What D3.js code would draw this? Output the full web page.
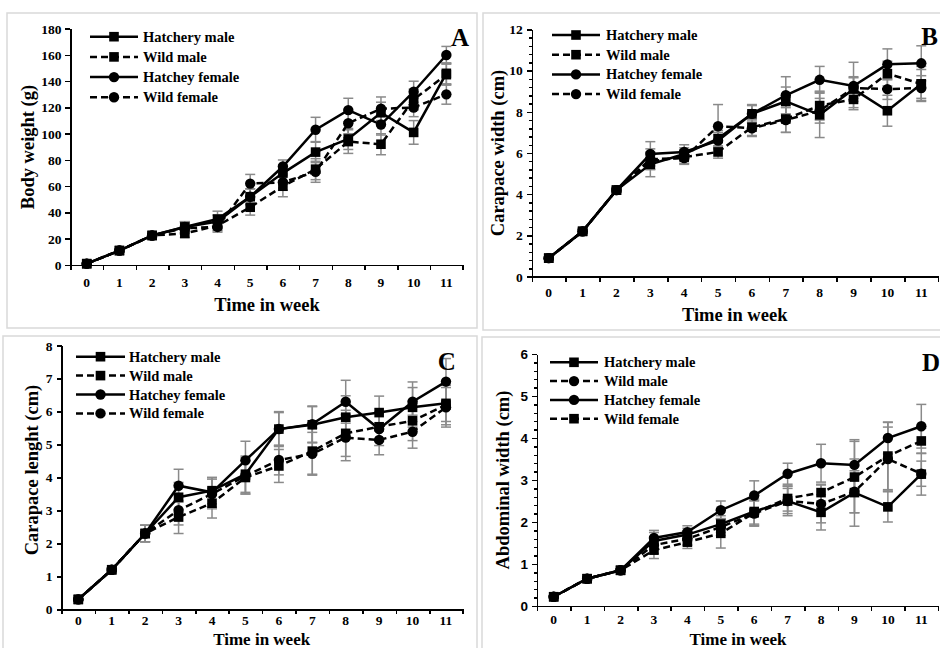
<!DOCTYPE html>
<meta charset="utf-8" />
<style>
  body { margin: 0; background: #fff; }
  svg { display: block; }
  .axis path, .axis line { stroke: #000; stroke-width: 1.5; shape-rendering: crispEdges; }
  .axis text, .wk, .legend text, .title, .letter {
    font-family: "Liberation Serif", "Times New Roman", serif;
    font-weight: bold;
    fill: #000;
  }
  .axis text, .wk { font-size: 13.5px; }
  .sans text { font-family: "Liberation Sans", Arial, sans-serif; font-size: 13.5px; }
  .legend text { font-size: 14.5px; }
  .title { font-size: 18.5px; }
  .title.low { font-size: 17px; }
  .letter { font-size: 25px; }
  .frame { fill: none; stroke: #d9d9d9; stroke-width: 1.5; }
  .err { stroke: #8a8a8a; stroke-width: 1.5; fill: none; }
  .line { fill: none; stroke: #000; stroke-width: 2.5; }
</style>
<svg id="chart" width="940" height="648"></svg>
<script src="https://cdn.jsdelivr.net/npm/d3@7"></script>
<script>
  var weeks = [0, 1, 2, 3, 4, 5, 6, 7, 8, 9, 10, 11];
  var seriesNames = ["Hatchery male", "Wild male", "Hatchey female", "Wild female"];

  // A - body weight (g)
  var bwHatcheryMale = [1, 11, 22.5, 29, 35, 52, 70, 86, 96, 116, 101, 146];
  var bwWildMale = [1, 11, 22.5, 24, 30, 44, 60, 73, 94, 92, 126, 145];
  var bwHatcheyFemale = [1, 11, 22.5, 29, 33, 52, 75, 103, 118, 107, 132, 160];
  var bwWildFemale = [1, 11, 22.5, 28, 29, 62, 63, 71, 108, 119, 120, 130];
  var bwErrHM = [0.5, 1, 1, 4, 6, 6, 6, 8, 8, 8, 9, 8];
  var bwErrWM = [0.5, 1, 1, 3, 4, 6, 8, 8, 9, 8, 8, 8];
  var bwErrHF = [0.5, 1, 1, 4, 5, 6, 5, 9.5, 9, 8, 8, 6.5];
  var bwErrWF = [0.5, 1, 1, 4, 4, 7, 6, 8, 8, 9, 7, 7.5];

  // B - carapace width (cm)
  var cwHatcheryMale = [0.9, 2.2, 4.2, 5.45, 5.95, 6.7, 7.9, 8.5, 7.85, 9.1, 8.05, 9.35];
  var cwWildMale = [0.9, 2.2, 4.2, 5.6, 5.8, 6.05, 7.25, 7.65, 8.3, 8.6, 9.85, 9.35];
  var cwHatcheyFemale = [0.9, 2.2, 4.2, 5.95, 6.05, 6.6, 7.9, 8.8, 9.55, 9.25, 10.3, 10.35];
  var cwWildFemale = [0.9, 2.2, 4.2, 5.7, 5.75, 7.3, 7.2, 7.6, 8.05, 9.15, 9.1, 9.15];
  var cwErrHM = [0.05, 0.1, 0.1, 0.6, 0.3, 0.4, 0.4, 0.7, 1.1, 0.6, 0.75, 0.85];
  var cwErrWM = [0.05, 0.1, 0.1, 0.4, 0.3, 0.3, 0.4, 0.65, 0.7, 0.4, 0.6, 0.7];
  var cwErrHF = [0.05, 0.1, 0.1, 0.6, 0.35, 0.4, 0.45, 0.9, 0.65, 1.15, 0.75, 0.85];
  var cwErrWF = [0.05, 0.1, 0.1, 0.5, 0.3, 1.05, 0.4, 0.6, 0.6, 0.5, 0.5, 0.6];

  // C - carapace length (cm)
  var clHatcheryMale = [0.3, 1.2, 2.3, 3.4, 3.6, 4.1, 5.47, 5.6, 5.83, 5.97, 6.13, 6.25];
  var clWildMale = [0.3, 1.2, 2.3, 2.8, 3.22, 4.0, 4.35, 4.8, 5.34, 5.54, 5.72, 6.2];
  var clHatcheyFemale = [0.3, 1.2, 2.3, 3.75, 3.55, 4.52, 5.47, 5.62, 6.3, 5.47, 6.3, 6.91];
  var clWildFemale = [0.3, 1.2, 2.3, 3.01, 3.5, 4.05, 4.53, 4.72, 5.21, 5.14, 5.39, 6.13];
  var clErrHM = [0.02, 0.05, 0.25, 0.45, 0.4, 0.55, 0.5, 0.55, 0.65, 0.5, 0.6, 0.55];
  var clErrWM = [0.02, 0.05, 0.25, 0.5, 0.45, 0.5, 0.5, 0.7, 0.7, 0.45, 0.6, 0.6];
  var clErrHF = [0.02, 0.05, 0.25, 0.5, 0.45, 0.58, 0.53, 0.55, 0.65, 0.5, 0.6, 0.7];
  var clErrWF = [0.02, 0.05, 0.25, 0.45, 0.45, 0.55, 0.45, 0.65, 0.7, 0.45, 0.5, 0.6];

  // D - abdominal width (cm)
  var awHatcheryMale = [0.22, 0.65, 0.85, 1.55, 1.7, 1.95, 2.25, 2.5, 2.23, 2.7, 2.36, 3.14];
  var awWildMale = [0.22, 0.65, 0.85, 1.45, 1.6, 1.88, 2.2, 2.5, 2.43, 2.72, 3.5, 3.15];
  var awHatcheyFemale = [0.22, 0.65, 0.85, 1.62, 1.76, 2.28, 2.63, 3.15, 3.4, 3.36, 4.0, 4.28];
  var awWildFemale = [0.22, 0.65, 0.85, 1.33, 1.52, 1.73, 2.22, 2.56, 2.7, 3.07, 3.57, 3.93];
  var awErrHM = [0.02, 0.03, 0.03, 0.2, 0.15, 0.2, 0.3, 0.3, 0.42, 0.8, 0.36, 0.5];
  var awErrWM = [0.02, 0.03, 0.03, 0.2, 0.15, 0.2, 0.3, 0.35, 0.45, 0.5, 0.76, 0.3];
  var awErrHF = [0.02, 0.03, 0.03, 0.18, 0.15, 0.22, 0.35, 0.25, 0.45, 0.6, 0.38, 0.52];
  var awErrWF = [0.02, 0.03, 0.03, 0.2, 0.15, 0.35, 0.3, 0.3, 0.2, 0.85, 0.8, 0.3];

  var svg = d3.select("#chart");

  var panels = [
    {
      letter: "A", ytitle: "Body weight (g)", ymax: 180, ystep: 20, minor: 0,
      frame: [7, 13, 470, 315],
      plot: { left: 70.4, right: 462.7, top: 28.7, bottom: 265 }, wkOffset: 17,
      xtitle: [267, 305], ytitlePos: [28, 147], letterPos: [460, 37],
      legend: { x1: 90, x2: 138, tx: 143, y: 36.7, dy: 20.2 },
      values: [bwHatcheryMale, bwWildMale, bwHatcheyFemale, bwWildFemale],
      errs: [bwErrHM, bwErrWM, bwErrHF, bwErrWF],
      markers: ["square", "square", "circle", "circle"]
    },
    {
      letter: "B", ytitle: "Carapace width (cm)", ymax: 12, ystep: 2, minor: 0.4,
      frame: [483, 13, 470, 317],
      plot: { left: 531.8, right: 938.2, top: 29.3, bottom: 276.7 }, wkOffset: 16,
      xtitle: [734.7, 315], ytitlePos: [498, 153], letterPos: [929.7, 36.7],
      legend: { x1: 552, x2: 600, tx: 606, y: 35, dy: 19.7 },
      values: [cwHatcheryMale, cwWildMale, cwHatcheyFemale, cwWildFemale],
      errs: [cwErrHM, cwErrWM, cwErrHF, cwErrWF],
      markers: ["square", "square", "circle", "circle"]
    },
    {
      letter: "C", ytitle: "Carapace lenght (cm)", ymax: 8, ystep: 1, minor: 0, low: true,
      frame: [3, 336, 474, 320],
      plot: { left: 61.6, right: 462.7, top: 345.7, bottom: 609.3 }, wkOffset: 11.5,
      xtitle: [261.7, 639], ytitlePos: [31.7, 470], letterPos: [446.7, 361.7],
      legend: { x1: 76, x2: 125, tx: 129, y: 356.7, dy: 18.9 },
      values: [clHatcheryMale, clWildMale, clHatcheyFemale, clWildFemale],
      errs: [clErrHM, clErrWM, clErrHF, clErrWF],
      markers: ["square", "square", "circle", "circle"]
    },
    {
      letter: "D", ytitle: "Abdominal width (cm)", ymax: 6, ystep: 1, minor: 0.2, sans: true, low: true,
      frame: [482, 337, 470, 320],
      plot: { left: 537, right: 938, top: 354, bottom: 606 }, wkOffset: 13,
      xtitle: [738, 639], ytitlePos: [503, 480], letterPos: [931, 362],
      legend: { x1: 550, x2: 598, tx: 604, y: 362.3, dy: 18.8 },
      values: [awHatcheryMale, awWildMale, awHatcheyFemale, awWildFemale],
      errs: [awErrHM, awErrWM, awErrHF, awErrWF],
      markers: ["square", "circle", "circle", "square"]
    }
  ];

  var dashes = [null, "7,4", null, "7,4"];

  panels.forEach(drawPanel);

  function drawMarker(g, type, cx, cy) {
    if (type == "square") {
      g.append("rect")
        .attr("x", cx - 4.8).attr("y", cy - 4.8)
        .attr("width", 9.6).attr("height", 9.6)
        .attr("fill", "#000");
    } else {
      g.append("circle")
        .attr("cx", cx).attr("cy", cy).attr("r", 5.2)
        .attr("fill", "#000");
    }
  }

  function drawPanel(p) {
    svg.append("rect").attr("class", "frame")
      .attr("x", p.frame[0]).attr("y", p.frame[1])
      .attr("width", p.frame[2]).attr("height", p.frame[3]);

    var x = d3.scaleLinear().domain([-0.5, 11.5]).range([p.plot.left, p.plot.right]);
    var y = d3.scaleLinear().domain([0, p.ymax]).range([p.plot.bottom, p.plot.top]);

    var g = svg.append("g");

    // minor y ticks
    if (p.minor) {
      var minorTicks = d3.range(0, p.ymax + 1e-9, p.minor);
      g.append("g").attr("class", "axis")
        .attr("transform", "translate(" + p.plot.left + ",0)")
        .call(d3.axisLeft(y).tickValues(minorTicks).tickSize(3).tickSizeOuter(0).tickFormat(""));
    }

    // y axis
    g.append("g").attr("class", "axis" + (p.sans ? " sans" : ""))
      .attr("transform", "translate(" + p.plot.left + ",0)")
      .call(d3.axisLeft(y).tickValues(d3.range(0, p.ymax + 1e-9, p.ystep))
        .tickSize(5).tickSizeOuter(0).tickPadding(4).tickFormat(d3.format("d")));

    // x axis, ticks between weeks
    g.append("g").attr("class", "axis")
      .attr("transform", "translate(0," + p.plot.bottom + ")")
      .call(d3.axisBottom(x).tickValues(d3.range(-0.5, 12, 1)).tickSize(5).tickSizeOuter(0).tickFormat(""));

    g.selectAll(".wk").data(weeks).enter().append("text")
      .attr("class", "wk")
      .attr("x", function(d) { return x(d); })
      .attr("y", p.plot.bottom + p.wkOffset)
      .attr("text-anchor", "middle")
      .attr("dominant-baseline", "central")
      .text(function(d) { return d; });

    // error bars
    p.values.forEach(function(vals, s) {
      var eg = g.append("g");
      vals.forEach(function(v, i) {
        var e = p.errs[s][i];
        var cx = x(weeks[i]);
        var y1 = y(v - e), y2 = y(v + e);
        eg.append("line").attr("class", "err").attr("x1", cx).attr("x2", cx).attr("y1", y1).attr("y2", y2);
        eg.append("line").attr("class", "err").attr("x1", cx - 5).attr("x2", cx + 5).attr("y1", y1).attr("y2", y1);
        eg.append("line").attr("class", "err").attr("x1", cx - 5).attr("x2", cx + 5).attr("y1", y2).attr("y2", y2);
      });
    });

    // lines and markers
    var line = d3.line()
      .x(function(d, i) { return x(weeks[i]); })
      .y(function(d) { return y(d); });

    p.values.forEach(function(vals, s) {
      var sg = g.append("g");
      sg.append("path").datum(vals).attr("class", "line")
        .attr("d", line)
        .attr("stroke-dasharray", dashes[s]);
      vals.forEach(function(v, i) {
        drawMarker(sg, p.markers[s], x(weeks[i]), y(v));
      });
    });

    // legend
    var lg = g.append("g").attr("class", "legend");
    seriesNames.forEach(function(name, s) {
      var ly = p.legend.y + s * p.legend.dy;
      lg.append("line").attr("class", "line")
        .attr("x1", p.legend.x1).attr("x2", p.legend.x2)
        .attr("y1", ly).attr("y2", ly)
        .attr("stroke-dasharray", dashes[s]);
      drawMarker(lg, p.markers[s], (p.legend.x1 + p.legend.x2) / 2, ly);
      lg.append("text").attr("x", p.legend.tx).attr("y", ly)
        .attr("dominant-baseline", "central")
        .text(name);
    });

    // titles
    g.append("text").attr("class", p.low ? "title low" : "title")
      .attr("x", p.xtitle[0]).attr("y", p.xtitle[1])
      .attr("text-anchor", "middle").attr("dominant-baseline", "central")
      .text("Time in week");

    g.append("text").attr("class", "title")
      .attr("transform", "translate(" + p.ytitlePos[0] + "," + p.ytitlePos[1] + ") rotate(-90)")
      .attr("text-anchor", "middle").attr("dominant-baseline", "central")
      .text(p.ytitle);

    g.append("text").attr("class", "letter")
      .attr("x", p.letterPos[0]).attr("y", p.letterPos[1])
      .attr("text-anchor", "middle").attr("dominant-baseline", "central")
      .text(p.letter);
  }
</script>
